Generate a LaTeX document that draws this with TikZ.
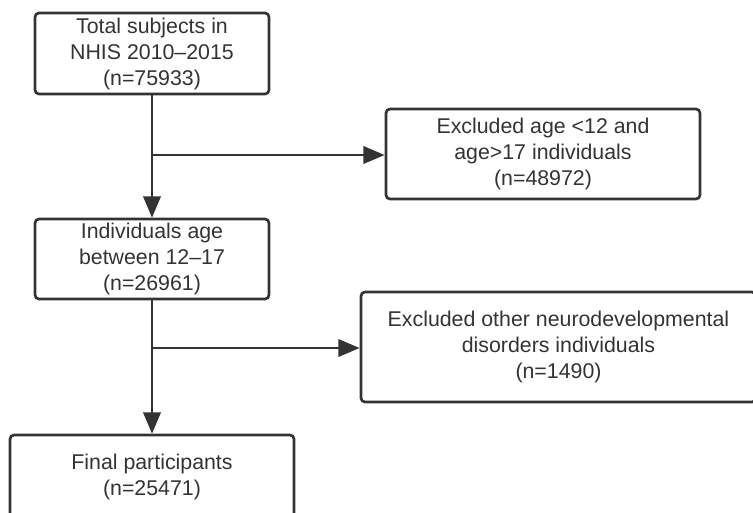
\documentclass[tikz,border=0pt]{standalone}
\usepackage{fontspec}
\setmainfont{Liberation Sans}
\usetikzlibrary{arrows.meta}
\definecolor{ink}{HTML}{333333}

\begin{document}
\begin{tikzpicture}[x=0.75pt,y=0.75pt,yscale=-1,xscale=1,
        box/.style={draw=ink,line width=2pt,rounded corners=3pt,align=center,text=ink,inner sep=0pt,font=\fontsize{16}{19.5}\selectfont},
        flow/.style={draw=ink,line width=2pt,-{Triangle[length=16pt,width=13pt]}}]
        \clip (0,0) rectangle (753,512);
        \useasboundingbox (0,0) rectangle (753,512);
        % boxes
        \draw (152,53.5) node (total) [box,minimum width=175.5pt,minimum height=60.75pt] {Total subjects in\\NHIS 2010--2015\\(n=75933)};
        \draw (152,259) node (age) [box,minimum width=175.5pt,minimum height=60pt] {Individuals age\\between 12--17\\(n=26961)};
        \draw (543,154) node (excage) [box,minimum width=235.5pt,minimum height=67.5pt] {Excluded age \textless12 and\\age\textgreater17 individuals\\(n=48972)};
        \draw (558.5,347) node (excneuro) [box,minimum width=296.25pt,minimum height=82.5pt] {Excluded other neurodevelopmental\\disorders individuals\\(n=1490)};
        \draw (152,476.5) node (final) [box,minimum width=213pt,minimum height=62.25pt] {Final participants\\(n=25471)};
        % arrows
        \coordinate (j1) at (152,155);
        \coordinate (j2) at (152,348);
        \draw [flow] (total) -- (age);
        \draw [flow] (j1) -- (j1 -| excage.west);
        \draw [flow] (age) -- (final);
        \draw [flow] (j2) -- (j2 -| excneuro.west);
\end{tikzpicture}
\end{document}
